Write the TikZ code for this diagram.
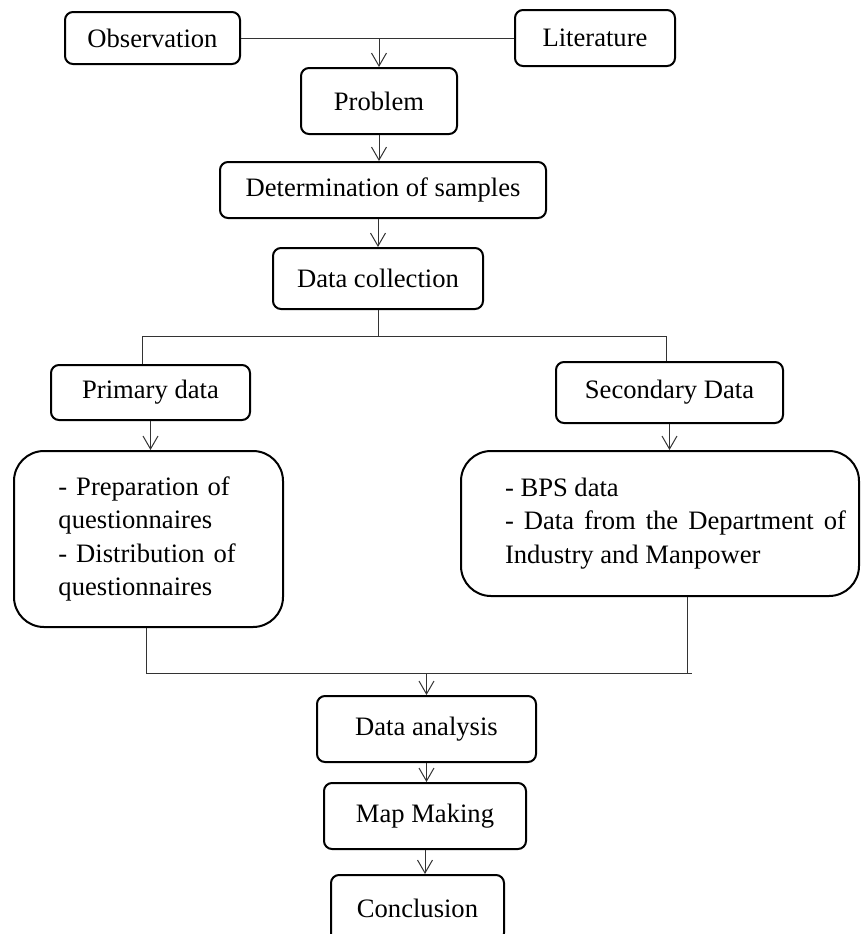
\documentclass[tikz,border=0pt]{standalone}
\usepackage{fontspec}
\setmainfont{Liberation Serif}
\usetikzlibrary{arrows.meta}

\begin{document}
\begin{tikzpicture}[
  x=0.5pt, y=-0.5pt,
  font=\fontsize{13.3pt}{16.8pt}\selectfont,
  box/.style={draw, line width=1pt, rounded corners=4pt, inner sep=0pt},
  bigbox/.style={draw, line width=1pt, rounded corners=15pt, inner sep=0pt},
  link/.style={line width=0.5pt, black!80},
  arr/.style={link, -{Straight Barb[length=6.5pt, width=7.5pt]}}
]
\useasboundingbox (0,0) rectangle (861,934);
\node[box, minimum width=87.5pt, minimum height=26pt] (obs) at (152.5,38) {Observation};
\node[box, minimum width=80pt, minimum height=28pt] (lit) at (595,38) {Literature};
\node[box, minimum width=78pt, minimum height=33pt] (prob) at (379,101) {Problem};
\node[box, minimum width=163pt, minimum height=28pt] (det) at (383,190) {Determination of samples};
\node[box, minimum width=105pt, minimum height=30.5pt] (coll) at (378,278.5) {Data collection};
\node[box, minimum width=99.5pt, minimum height=27.5pt] (prim) at (150.5,392.5) {Primary data};
\node[box, minimum width=113.5pt, minimum height=30.5pt] (sec) at (669.5,392.5) {Secondary Data};
\node[bigbox, minimum width=134.5pt, minimum height=88pt, text width=90pt, align=left] (prep) at (148.5,539)
  {- Preparation of\\ questionnaires\\ - Distribution of\\ questionnaires};
\node[bigbox, minimum width=199pt, minimum height=72.5pt] (sdata) at (660,523.5)
  {\raisebox{2.5pt}{\makebox[186pt][r]{\parbox{170.5pt}{- BPS data\\ - Data from the Department of\linebreak Industry and Manpower}}}};
\node[box, minimum width=109.5pt, minimum height=33pt] (ana) at (426.5,729) {Data analysis};
\node[box, minimum width=101pt, minimum height=33pt] (map) at (425,816) {Map Making};
\node[box, minimum width=86.5pt, minimum height=33pt] (conc) at (417.5,908) {Conclusion};

\coordinate (splitL) at (142,336);
\coordinate (splitR) at (666,336);
\coordinate (joinL) at (146,673);
\coordinate (joinR) at (687,673);

\draw[link] (obs.east) -- (lit.west);
\draw[arr] (obs.east -| prob.north) -- (prob.north);
\draw[arr] (prob.south) -- (prob.south |- det.north);
\draw[arr] (det.south -| coll.north) -- (coll.north);
\draw[link] (coll.south) -- (coll.south |- splitL);
\draw[link] (splitL |- prim.north) -- (splitL) -- (splitR) -- (splitR |- sec.north);
\draw[arr] (prim.south) -- (prim.south |- prep.north);
\draw[arr] (sec.south) -- (sec.south |- sdata.north);
\draw[link] (joinL |- prep.south) -- (joinL) -- ([xshift=2.5pt]joinR);
\draw[link] (joinR |- sdata.south) -- (joinR);
\draw[arr] (ana.north |- joinL) -- (ana.north);
\draw[arr] (ana.south) -- (ana.south |- map.north);
\draw[arr] (map.south) -- (map.south |- conc.north);
\end{tikzpicture}
\end{document}
